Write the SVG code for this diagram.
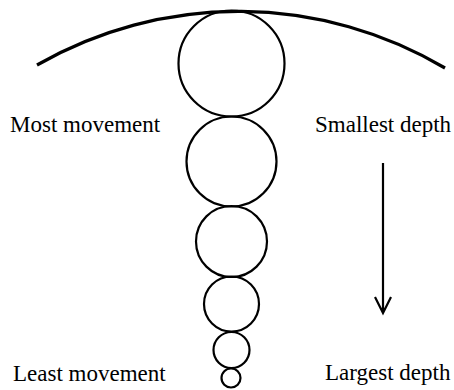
<svg xmlns="http://www.w3.org/2000/svg" width="454" height="390" viewBox="0 0 454 390">
<style>
.c{fill:none;stroke:#000;stroke-width:2.2}
.t{font-family:"Liberation Serif","Times New Roman",serif;font-size:23px;fill:#000}
.ln{fill:none;stroke:#000;stroke-width:2.2}
</style>
<rect width="454" height="390" fill="#fff"/>
<g id="surface"><path d="M37,65 A405,405 0 0 1 445,68" fill="none" stroke="#000" stroke-width="3.2"/></g>
<g id="bubble1"><circle class="c" cx="231.5" cy="63.5" r="53"/></g>
<g id="bubble2"><circle class="c" cx="231.5" cy="161.5" r="45"/></g>
<g id="bubble3"><circle class="c" cx="231.5" cy="241.5" r="35.5"/></g>
<g id="bubble4"><circle class="c" cx="231.5" cy="304" r="27.5"/></g>
<g id="bubble5"><circle class="c" cx="231.5" cy="350" r="18"/></g>
<g id="bubble6"><circle class="c" cx="231" cy="378" r="9.5"/></g>
<g id="connectors">
<path class="ln" d="M383,163 V313 M375,297 L383,313 L391,297"/>
</g>
<g id="labels">
<text class="t" x="10" y="132">Most movement</text>
<text class="t" x="315" y="132">Smallest depth</text>
<text class="t" x="13" y="381">Least movement</text>
<text class="t" x="325" y="380">Largest depth</text>
</g>
</svg>
